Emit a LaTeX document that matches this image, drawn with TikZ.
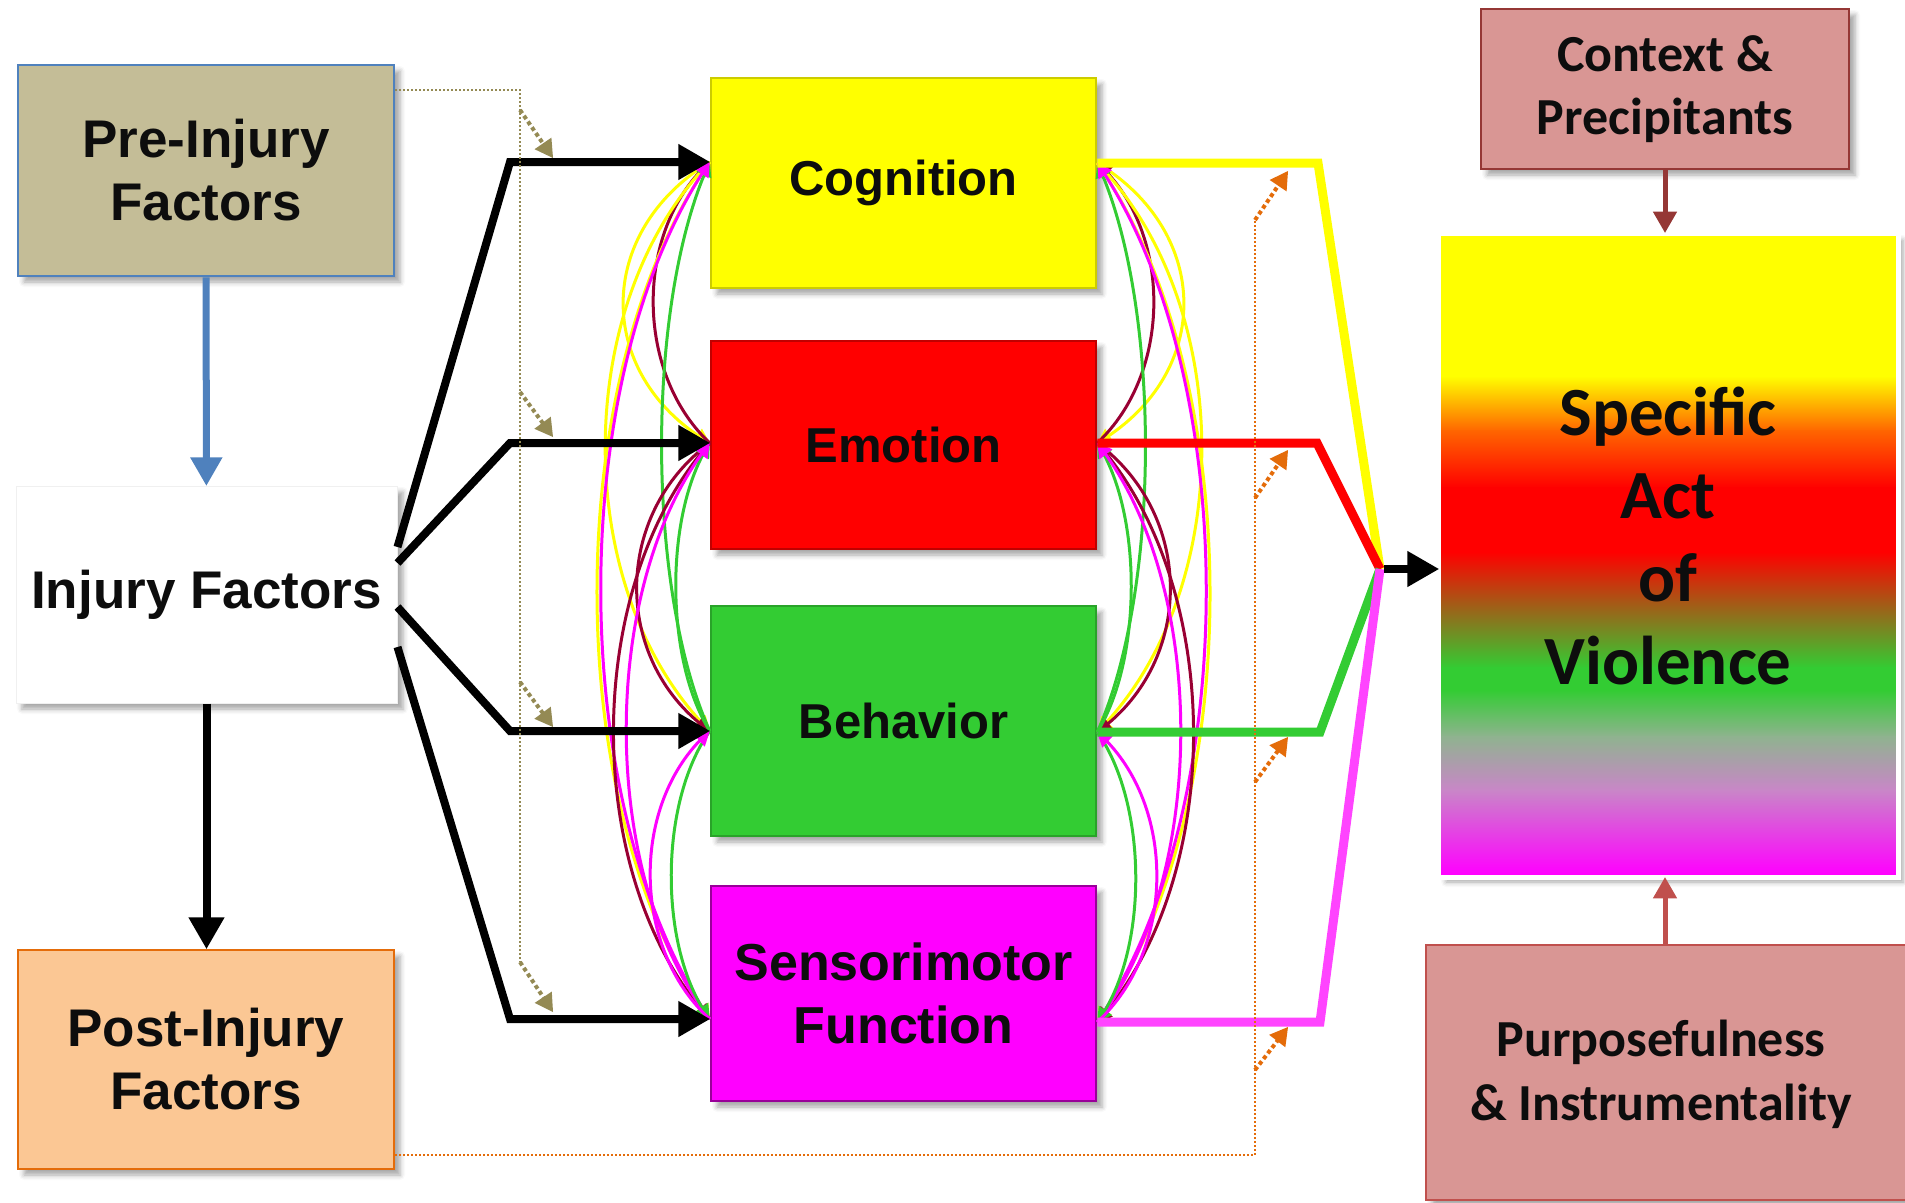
\documentclass[tikz,border=0pt]{standalone}
\usepackage{fontspec}
\setmainfont{Liberation Sans}
\newfontfamily\calfont{Carlito}
\usetikzlibrary{arrows,calc,shadows.blur}
\pgfdeclarelayer{background}
\pgfdeclarelayer{foreground}
\pgfsetlayers{background,main,foreground}

\definecolor{ink}{HTML}{0D0D0D}
\definecolor{tanfill}{HTML}{C4BD97}
\definecolor{tanline}{HTML}{948A54}
\definecolor{preborder}{HTML}{4F81BD}
\definecolor{postfill}{HTML}{FBC794}
\definecolor{postborder}{HTML}{E46C0A}
\definecolor{cogfill}{HTML}{FFFF00}
\definecolor{cogborder}{HTML}{CCCC00}
\definecolor{emofill}{HTML}{FF0000}
\definecolor{emoborder}{HTML}{C00000}
\definecolor{emocurve}{HTML}{990033}
\definecolor{behfill}{HTML}{33CC33}
\definecolor{behborder}{HTML}{29A329}
\definecolor{sensfill}{HTML}{FF00FF}
\definecolor{sensborder}{HTML}{990099}
\definecolor{senslight}{HTML}{FF44FF}
\definecolor{rosefill}{HTML}{D99694}
\definecolor{roseborder}{HTML}{953735}
\definecolor{rosearrow}{HTML}{C0504D}
\definecolor{actorange}{HTML}{FF6600}
\definecolor{actgrey}{HTML}{8FB38F}
\definecolor{actlilac}{HTML}{C986C8}

\tikzset{
  factor/.style={rectangle, inner sep=0pt, align=center, text=ink, line width=2.5pt,
    font=\bfseries\fontsize{53}{63}\selectfont,
    blur shadow={shadow xshift=6pt, shadow yshift=-6pt, shadow blur radius=5pt, shadow opacity=35}},
  domainbox/.style={factor, minimum width=385pt, font=\bfseries\fontsize{49}{60}\selectfont},
  rosebox/.style={factor, fill=rosefill, font=\calfont\bfseries\fontsize{52}{63}\selectfont},
  rosetext/.style={text=ink, align=center, font=\calfont\bfseries\fontsize{52}{64}\selectfont},
  bigarrow/.style={line width=8pt, -triangle 60},
  link/.style={line width=3pt, -triangle 60},
  feed/.style={line width=9pt, line join=miter},
  tandots/.style={draw=tanline, line width=2pt, dash pattern=on 2pt off 2pt},
  tanhint/.style={draw=tanline, line width=4pt, dash pattern=on 4pt off 3pt, -triangle 60},
  orangedots/.style={draw=postborder, line width=2pt, dash pattern=on 2pt off 2pt},
  orangehint/.style={draw=postborder, line width=4pt, dash pattern=on 4pt off 3pt, -triangle 60}
}

\begin{document}
\begin{tikzpicture}[x=1pt,y=-1pt]
\useasboundingbox (0,0) rectangle (1905,1202);

% left column
\node[factor, fill=tanfill, draw=preborder, minimum width=376pt, minimum height=211pt] (pre) at (206,170.5) {Pre-Injury\\Factors};
\node[factor, fill=white, draw=black!6, line width=1pt, minimum width=381pt, minimum height=217pt] (inj) at (206.5,594.5) {Injury Factors};
\node[factor, fill=postfill, draw=postborder, minimum width=376pt, minimum height=219pt] (post) at (206,1059.5) {Post-Injury\\Factors};

% the four domains
\node[domainbox, fill=cogfill, draw=cogborder, minimum height=210pt] (cog) at (903.5,183) {Cognition};
\node[domainbox, fill=emofill, draw=emoborder, minimum height=208pt] (emo) at (903.5,445) {Emotion};
\node[domainbox, fill=behfill, draw=behborder, minimum height=230pt] (beh) at (903.5,721) {Behavior};
\node[domainbox, fill=sensfill, draw=sensborder, minimum height=215pt, font=\bfseries\fontsize{52}{63}\selectfont] (sens) at (903.5,993.5) {Sensorimotor\\Function};

% right column
\node[rosebox, draw=roseborder, minimum width=368pt, minimum height=160pt] (ctx) at (1665,89) {Context \&\\Precipitants};
\node[rosebox, draw=rosearrow, minimum width=489pt, minimum height=255pt] (purp) at (1670.5,1072.5) {};
\node[rosetext] (purplabel) at (1661,1074) {Purposefulness\\\& Instrumentality};
\node[factor, fill=white, minimum width=457pt, minimum height=642pt] (act) at (1668.5,555) {};
\foreach \ya/\yb/\ca/\cb in {236/377/cogfill/cogfill, 376/431/cogfill/actorange,
    430/488/actorange/emofill, 487/553/emofill/emofill, 552/668/emofill/behfill,
    667/691/behfill/behfill, 690/737/behfill/actgrey, 736/791/actgrey/actlilac,
    790/874/actlilac/sensfill}
  \shade[top color=\ca, bottom color=\cb] (act.west |- 0,\ya) rectangle (act.east |- 0,\yb);
\draw[white, line width=5pt] (act.north west) rectangle (act.south east);
\node[text=ink, align=center, font=\calfont\bfseries\fontsize{69}{83}\selectfont] (actlabel) at (1668,536) {Specific\\Act\\of\\Violence};

% ports on the domain boxes
\coordinate (cogL)  at (cog.west |- 0,162);
\coordinate (emoL)  at (emo.west |- 0,443);
\coordinate (behL)  at (beh.west |- 0,731);
\coordinate (sensL) at (sens.west |- 0,1019);
\coordinate (cogR)  at (cog.east |- 0,163);
\coordinate (emoR)  at (emo.east |- 0,443);
\coordinate (behR)  at (beh.east |- 0,732);
\coordinate (sensR) at (sens.east |- 0,1022);
\coordinate (merge) at (1380,569);

% cross links between domains, both sides
\foreach \side/\dir in {L/-1,R/1}{
  \foreach \a/\b/\c/\k in {cog/emo/cogfill/115, emo/cog/emocurve/75, cog/beh/cogfill/139,
      beh/cog/behfill/64, cog/sens/cogfill/150, sens/cog/sensfill/145,
      emo/beh/emocurve/97, beh/emo/behfill/45, emo/sens/emocurve/128,
      sens/emo/sensfill/111, beh/sens/behfill/51, sens/beh/sensfill/79}{
    \draw[link, draw=\c] (\a\side) .. controls ($(\a\side)!.25!(\b\side)+(\dir*\k,0)$)
      and ($(\a\side)!.75!(\b\side)+(\dir*\k,0)$) .. (\b\side);
  }
}

% injury factors feed every domain
\draw[line width=7pt, preborder, -triangle 60] (pre) -- (inj);
\draw[bigarrow] (inj.south) -- (inj.south |- post.north);
\foreach \t/\ys in {cogL/547, emoL/563, behL/607, sensL/647}
  \draw[bigarrow] (inj.east |- 0,\ys) -- (510,0 |- \t) -- (\t);

% domains converge on the act
\draw[feed, draw=cogfill]   (cogR)  -- (1318,0 |- cogR) -- (merge);
\draw[feed, draw=emofill]   (emoR)  -- (1317,0 |- emoR) -- (merge);
\draw[feed, draw=behfill]   (behR)  -- (1320,0 |- behR) -- (merge);
\draw[feed, draw=senslight] (sensR) -- (1320,0 |- sensR) -- (merge);
\draw[bigarrow] ($(merge)+(4,0)$) -- (act.west |- merge);

\draw[line width=5pt, roseborder, -triangle 60] (ctx.south) -- (ctx.south |- act.north);
\draw[line width=5pt, rosearrow, -triangle 60] (purp.north -| ctx.south) -- (act.south -| ctx.south);

\begin{pgfonlayer}{foreground}
  % pre- and post-injury influences
  \draw[tandots] (pre.east |- 0,90) -- (520,90) -- (520,962);
  \foreach \ys/\yt in {110/158, 392/437, 682/727, 962/1012}
    \draw[tanhint] (520,\ys) -- (553,\yt);
  \draw[orangedots] (post.east |- 0,1155) -- (1255,1155) -- (1255,220);
  \foreach \ys/\yt in {220/171, 498/450, 782/737, 1070/1027}
    \draw[orangehint] (1255,\ys) -- (1288,\yt);
\end{pgfonlayer}
\end{tikzpicture}
\end{document}
